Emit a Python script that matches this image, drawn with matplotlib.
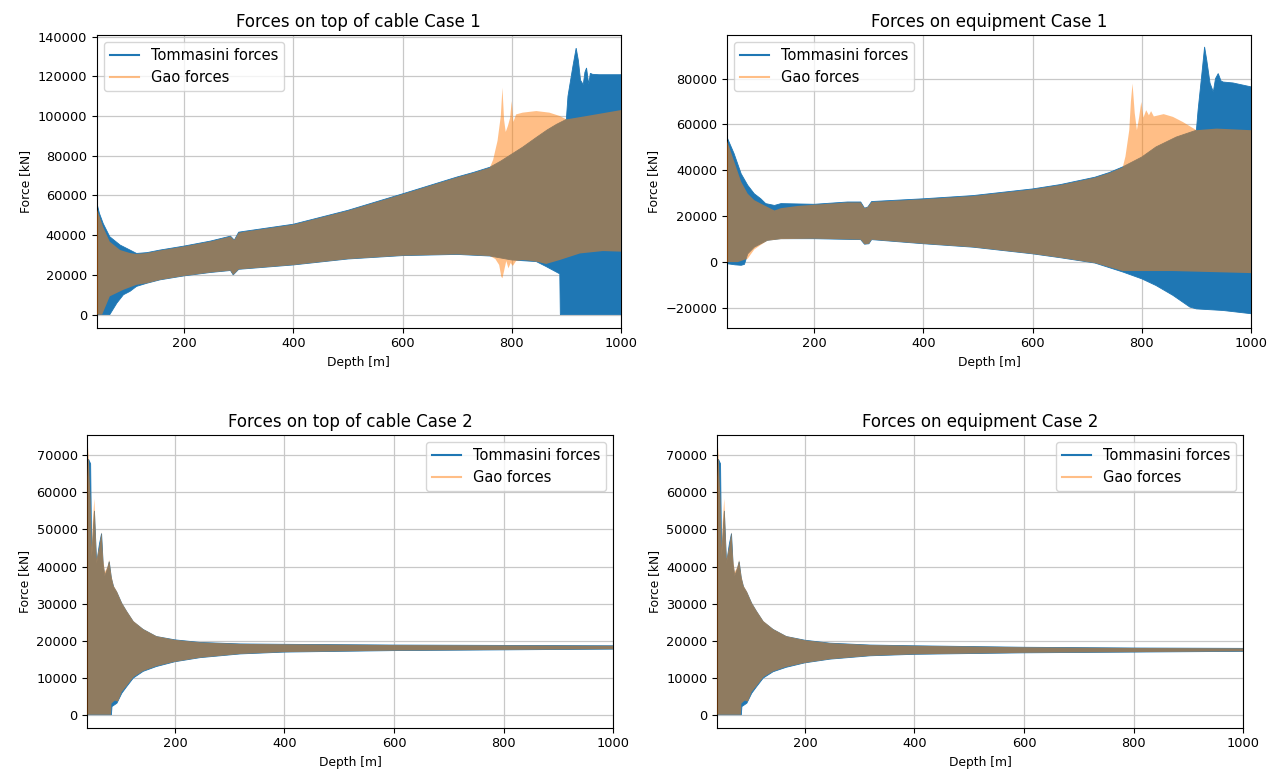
import matplotlib
matplotlib.use("Agg")
import matplotlib.pyplot as plt
from matplotlib.lines import Line2D

# (depth [m], force [kN]) envelope points

# --- Case 1, top of cable ---
tom_up_1 = [(40, 56500), (45, 51000), (52, 45800), (64, 39200), (83, 35000), (101, 32500),
            (113, 30800), (132, 31200), (156, 32500), (200, 34500), (248, 37000), (285, 39500),
            (292, 37500), (300, 41500), (312, 42000), (400, 45500), (500, 52500), (600, 60800),
            (700, 69300), (730, 71600), (760, 74200), (780, 77300), (800, 80800), (820, 84300),
            (845, 89200), (865, 93000), (882, 95800), (900, 98300),
            (903, 110000), (912, 125000), (918, 134200), (922, 128000), (926, 118000), (931, 115800),
            (934, 122000), (937, 124200), (941, 116000), (944, 121500), (948, 121000), (960, 120800),
            (1000, 120800)]
tom_lo_1 = [(40, 0), (64, 0), (77, 5800), (89, 10000), (101, 11700), (113, 14200), (132, 15800),
            (156, 17500), (200, 19500), (248, 21200), (285, 22200), (290, 20000), (300, 22800),
            (400, 25000), (500, 28000), (600, 29700), (700, 30300), (760, 29500), (800, 27500),
            (845, 26700), (863, 24200), (888, 20500), (889, 0), (1000, 0)]
gao_up_1 = [(40, 53500), (52, 44000), (64, 36700), (83, 32500), (101, 31000), (113, 30500),
            (132, 31000), (156, 32300), (200, 34300), (248, 36800), (285, 39300), (292, 37500),
            (300, 41200), (312, 41800), (400, 45300), (500, 52300), (600, 60600), (700, 69100),
            (730, 71400), (760, 74000), (766, 78000), (774, 87500), (780, 100000), (783, 114200),
            (786, 98000), (789, 92000), (793, 95000), (797, 99000), (800, 107500), (803, 97000),
            (808, 100800), (820, 101700), (845, 102500), (869, 101700), (888, 100000), (900, 98300),
            (937, 100000), (1000, 103000)]
gao_lo_1 = [(40, 0), (50, 0), (64, 9200), (89, 12500), (113, 15000), (132, 15800), (156, 17500),
            (200, 19500), (248, 21200), (285, 22200), (290, 20000), (300, 22800), (400, 25000),
            (500, 28000), (600, 29700), (700, 30300), (760, 29500), (770, 28000), (777, 25000),
            (781, 19000), (783, 18300), (786, 22000), (790, 27000), (794, 23300), (798, 26000),
            (802, 24500), (808, 27000), (820, 27500), (845, 26700), (863, 25500), (888, 27500),
            (925, 30800), (967, 32000), (1000, 31700)]

# --- Case 1, equipment ---
tom_up_2 = [(40, 54500), (53, 47300), (66, 38500), (78, 33500), (90, 29800), (102, 27600),
            (111, 25500), (127, 24700), (139, 25500), (200, 25200), (261, 26200), (285, 26200),
            (292, 23500), (298, 24000), (305, 26400), (400, 27600), (491, 29000), (600, 31900),
            (651, 33800), (714, 37000), (740, 39000), (765, 41500), (800, 45800), (826, 50200),
            (863, 54500), (900, 57500), (903, 66000), (910, 82000), (915, 93800), (919, 88000),
            (925, 78000), (931, 74200), (935, 80000), (940, 82200), (945, 79000), (949, 78500),
            (967, 78100), (1000, 76400)]
tom_lo_2 = [(40, -700), (55, -1200), (66, -1400), (72, -1000), (78, 3600), (90, 6500), (102, 8000),
            (114, 9500), (139, 10200), (200, 10200), (285, 9800), (292, 7800), (300, 8000),
            (305, 9800), (400, 8000), (491, 6500), (600, 3600), (651, 1900), (714, -400),
            (765, -4300), (800, -7300), (826, -10200), (857, -14500), (888, -19600), (900, -20400),
            (949, -21100), (1000, -22500)]
gao_up_2 = [(40, 53000), (53, 44000), (66, 35000), (78, 29800), (90, 27000), (102, 25500),
            (127, 22500), (139, 23500), (170, 24500), (200, 25000), (261, 26000), (285, 26000),
            (292, 23500), (298, 24000), (305, 26200), (400, 27400), (491, 28800), (600, 31700),
            (651, 33600), (714, 36800), (740, 38800), (765, 41300), (770, 46000), (777, 57500),
            (780, 70000), (783, 77800), (787, 65000), (791, 57500), (795, 63000), (799, 69800),
            (803, 63000), (808, 66200), (813, 64000), (817, 65800), (822, 63500), (840, 64500),
            (857, 63300), (875, 61100), (900, 57500), (937, 58200), (1000, 57500)]
gao_lo_2 = [(40, 0), (60, 0), (78, 1500), (90, 5500), (102, 7500), (114, 9300), (139, 10000),
            (200, 10200), (285, 9800), (292, 7800), (300, 8000), (305, 9800), (400, 8000),
            (491, 6500), (600, 3600), (651, 1900), (714, -400), (765, -3900), (800, -3900),
            (857, -3900), (1000, -4800)]

# --- Case 2, top of cable ---
tom_up_3 = [(40, 60000), (42, 69000), (46, 67700), (48, 42600), (51, 50000), (53, 55000),
            (55, 48000), (57, 40800), (62, 46000), (66, 48900), (69, 40500), (72, 37500),
            (77, 39500), (80, 41300), (84, 36800), (88, 34500), (94, 33000), (103, 30000),
            (112, 27800), (124, 25100), (142, 23000), (166, 21100), (200, 20200), (246, 19500),
            (319, 19100), (400, 19000), (600, 18800), (800, 18700), (1000, 18600)]
tom_lo_3 = [(40, 0), (84, 0), (85, 2200), (94, 3100), (103, 5800), (112, 7600), (124, 9900),
            (142, 11700), (166, 13000), (200, 14300), (246, 15400), (319, 16400), (400, 16900),
            (600, 17300), (800, 17500), (1000, 17700)]
gao_up_3 = [(40, 64000), (41.8, 72200), (44, 64000), (46, 58000), (48, 45000), (50, 52000),
            (52.8, 58300), (55, 50000), (57, 42000), (62, 45500), (66, 49300), (69, 42000),
            (72, 38500), (77, 40000), (80, 41800), (84, 37500), (88, 34800), (94, 33300),
            (103, 30200), (112, 28000), (124, 25300), (142, 23100), (166, 21200), (200, 20200),
            (246, 19500), (319, 19100), (400, 19000), (600, 18800), (800, 18700), (1000, 18600)]
gao_lo_3 = [(40, 0), (83, 0), (84, 3000), (90, 3800), (96, 3600), (103, 6200), (112, 7800),
            (124, 10100), (142, 11800), (166, 13100), (200, 14300), (246, 15400), (319, 16400),
            (400, 16900), (600, 17300), (800, 17500), (1000, 17700)]

# --- Case 2, equipment ---
tom_up_4 = [(40, 60000), (42, 69000), (46, 67700), (48, 42600), (51, 50000), (53, 55000),
            (55, 48000), (57, 40800), (62, 46000), (66, 48900), (69, 40500), (72, 37500),
            (77, 39500), (80, 41300), (84, 36800), (88, 34500), (94, 33000), (103, 30000),
            (112, 27800), (124, 25100), (142, 23000), (166, 21100), (200, 20100), (246, 19300),
            (319, 18800), (400, 18600), (600, 18200), (800, 18000), (1000, 17900)]
tom_lo_4 = [(40, 0), (84, 0), (85, 2200), (94, 3100), (103, 5800), (112, 7600), (124, 9900),
            (142, 11600), (166, 12800), (200, 14000), (246, 15000), (319, 15900), (400, 16300),
            (600, 16700), (800, 16900), (1000, 17100)]
gao_up_4 = [(40, 64000), (41.8, 72200), (44, 64000), (46, 58000), (48, 45000), (50, 52000),
            (52.8, 58300), (55, 50000), (57, 42000), (62, 45500), (66, 49300), (69, 42000),
            (72, 38500), (77, 40000), (80, 41800), (84, 37500), (88, 34800), (94, 33300),
            (103, 30200), (112, 28000), (124, 25300), (142, 23100), (166, 21200), (200, 20100),
            (246, 19300), (319, 18800), (400, 18600), (600, 18200), (800, 18000), (1000, 17900)]
gao_lo_4 = [(40, 0), (83, 0), (84, 3000), (90, 3800), (96, 3600), (103, 6200), (112, 7800),
            (124, 10100), (142, 11700), (166, 12900), (200, 14000), (246, 15000), (319, 15900),
            (400, 16300), (600, 16700), (800, 16900), (1000, 17100)]

titles = ["Forces on top of cable Case 1", "Forces on equipment Case 1",
          "Forces on top of cable Case 2", "Forces on equipment Case 2"]
ylims = [(-6600, 140800), (-28600, 99000), (-3500, 75500), (-3500, 75500)]
legend_locs = ["upper left", "upper left", "upper right", "upper right"]

panels = [(tom_up_1, tom_lo_1, gao_up_1, gao_lo_1),
          (tom_up_2, tom_lo_2, gao_up_2, gao_lo_2),
          (tom_up_3, tom_lo_3, gao_up_3, gao_lo_3),
          (tom_up_4, tom_lo_4, gao_up_4, gao_lo_4)]

# axes boxes in figure fractions (left, bottom, width, height)
boxes = [[0.0756, 0.5788, 0.4099, 0.3762],
         [0.5684, 0.5788, 0.4097, 0.3762],
         [0.0683, 0.0647, 0.4110, 0.3762],
         [0.5608, 0.0647, 0.4112, 0.3762]]


def envelope(upper, lower):
    # outline of the band: along the upper edge, back along the lower edge
    xs = [p[0] for p in upper] + [p[0] for p in lower[::-1]]
    ys = [p[1] for p in upper] + [p[1] for p in lower[::-1]]
    return xs, ys


fig = plt.figure(figsize=(12.79, 7.78), dpi=100)

for i, (tu, tl, gu, gl) in enumerate(panels):
    ax = fig.add_axes(boxes[i])
    x, y = envelope(tu, tl)
    ax.fill(x, y, color="C0", lw=0.6, ec="C0", zorder=2)
    x, y = envelope(gu, gl)
    ax.fill(x, y, color="C1", alpha=0.5, lw=0, zorder=3)
    ax.set_xlim(40, 1000)
    ax.set_ylim(*ylims[i])
    ax.set_axisbelow(True)
    ax.grid(True, color="#c8c8c8", lw=0.9)
    ax.set_title(titles[i], fontsize=12)
    ax.set_xlabel("Depth [m]", fontsize=8.8)
    ax.set_ylabel("Force [kN]", fontsize=8.8)
    ax.tick_params(labelsize=9.3)
    handles = [Line2D([], [], color="C0", lw=1.5),
               Line2D([], [], color="C1", lw=1.5, alpha=0.5)]
    ax.legend(handles, ["Tommasini forces", "Gao forces"], loc=legend_locs[i], fontsize=10.5)

fig.savefig("out.png", dpi=100)
